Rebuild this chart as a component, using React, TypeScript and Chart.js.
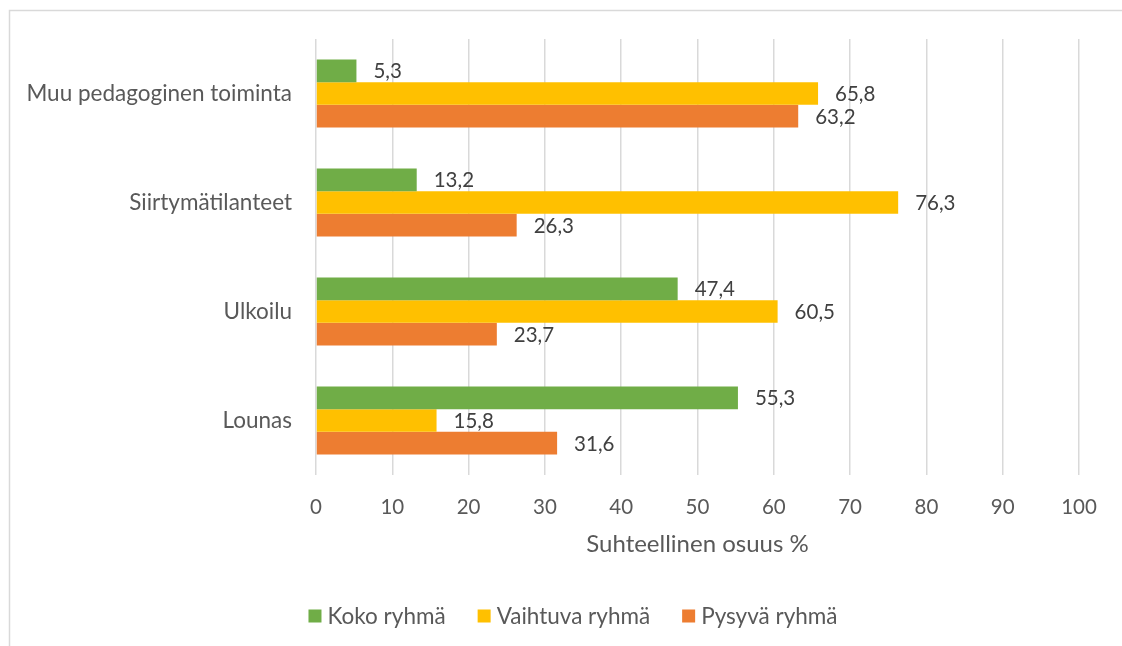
import React, { useEffect, useRef } from 'react';
import { Chart, registerables } from 'chart.js';

Chart.register(...registerables);

const categories = ['Muu pedagoginen toiminta', 'Siirtymätilanteet', 'Ulkoilu', 'Lounas'];
const seriesNames = ['Koko ryhmä', 'Vaihtuva ryhmä', 'Pysyvä ryhmä'];
const kokoRyhma = [5.3, 13.2, 47.4, 55.3];
const vaihtuvaRyhma = [65.8, 76.3, 60.5, 15.8];
const pysyvaRyhma = [63.2, 26.3, 23.7, 31.6];
const seriesColors = ['#70AD47', '#FFC000', '#ED7D31'];
const xMin = 0;
const xMax = 100;
const xStep = 10;
const axisTitle = 'Suhteellinen osuus %';

const FONT = 'Lato';
const FS_TEXT = 22.5;
const FS_NUM = 20.5;
const FS_TITLE = 24;
const AXIS_COLOR = '#595959';
const LABEL_COLOR = '#404040';
const GRID_COLOR = '#D9D9D9';

const fmt = (v: number) => v.toFixed(1).replace('.', ',');

const valueLabels = {
  id: 'valueLabels',
  afterDatasetsDraw(chart: any) {
    const ctx = chart.ctx;
    ctx.save();
    ctx.font = `${FS_NUM}px ${FONT}`;
    ctx.fillStyle = LABEL_COLOR;
    ctx.textAlign = 'left';
    ctx.textBaseline = 'middle';
    chart.data.datasets.forEach((ds: any, i: number) => {
      const meta = chart.getDatasetMeta(i);
      meta.data.forEach((bar: any, j: number) => {
        ctx.fillText(fmt(ds.data[j]), bar.x + 17, bar.y + 1);
      });
    });
    ctx.restore();
  },
};

const frame = {
  id: 'frame',
  beforeDraw(chart: any) {
    const ctx = chart.ctx;
    ctx.save();
    ctx.fillStyle = '#FFFFFF';
    ctx.fillRect(0, 0, chart.width, chart.height);
    ctx.strokeStyle = GRID_COLOR;
    ctx.lineWidth = 1.5;
    ctx.beginPath();
    ctx.moveTo(9.5, chart.height);
    ctx.lineTo(9.5, 10.5);
    ctx.lineTo(chart.width, 10.5);
    ctx.stroke();
    ctx.restore();
  },
};

// Legend drawn in Excel style (small square, tight gap), centred in the chart frame
const customLegend = {
  id: 'customLegend',
  afterDraw(chart: any) {
    const ctx = chart.ctx;
    const box = 13;
    const gap = 6;
    const itemGap = 32;
    const centerX = 573;
    const centerY = 616;
    ctx.save();
    ctx.font = `${FS_TEXT}px ${FONT}`;
    const items = chart.data.datasets.map((ds: any) => ({
      text: ds.label,
      color: ds.backgroundColor,
      w: ctx.measureText(ds.label).width,
    }));
    const total =
      items.reduce((s: number, it: any) => s + box + gap + it.w, 0) + itemGap * (items.length - 1);
    let x = centerX - total / 2;
    ctx.textAlign = 'left';
    ctx.textBaseline = 'middle';
    items.forEach((it: any) => {
      ctx.fillStyle = it.color;
      ctx.fillRect(x, centerY - box / 2, box, box);
      ctx.fillStyle = AXIS_COLOR;
      ctx.fillText(it.text, x + box + gap, centerY + 1);
      x += box + gap + it.w + itemGap;
    });
    ctx.restore();
  },
};

export default function App() {
  const ref = useRef<HTMLCanvasElement | null>(null);
  useEffect(() => {
    if (!ref.current) return;
    const chart = new Chart(ref.current, {
      type: 'bar',
      data: {
        labels: categories,
        datasets: [
          { label: seriesNames[0], data: kokoRyhma, backgroundColor: seriesColors[0] },
          { label: seriesNames[1], data: vaihtuvaRyhma, backgroundColor: seriesColors[1] },
          { label: seriesNames[2], data: pysyvaRyhma, backgroundColor: seriesColors[2] },
        ],
      },
      options: {
        indexAxis: 'y',
        responsive: false,
        animation: false,
        devicePixelRatio: 1,
        datasets: { bar: { categoryPercentage: 0.625, barPercentage: 1.0 } },
        layout: { padding: { top: 39, right: 43, left: 0, bottom: 0 } },
        plugins: {
          tooltip: { enabled: false },
          legend: { display: false },
        },
        scales: {
          x: {
            type: 'linear',
            min: xMin,
            max: xMax,
            ticks: {
              stepSize: xStep,
              color: AXIS_COLOR,
              font: { family: FONT, size: FS_NUM },
              padding: 20,
            },
            grid: { color: GRID_COLOR, lineWidth: 1.5, drawTicks: false },
            border: { display: false },
            title: {
              display: true,
              text: axisTitle,
              color: AXIS_COLOR,
              font: { family: FONT, size: FS_TITLE },
              padding: { top: 0, bottom: 87 },
            },
            afterFit: (scale: any) => {
              scale.height = 171;
            },
          },
          y: {
            type: 'category',
            ticks: {
              color: AXIS_COLOR,
              font: { family: FONT, size: FS_TEXT },
              padding: 24,
            },
            grid: { display: false, drawTicks: false },
            border: { display: false },
            afterFit: (scale: any) => {
              scale.width = 316;
            },
          },
        },
      },
      plugins: [frame, valueLabels, customLegend],
    });
    return () => chart.destroy();
  }, []);

  return (
    <div style={{ position: 'fixed', left: 0, top: 0, width: 1122, height: 646, background: '#fff' }}>
      <canvas ref={ref} width={1122} height={646} style={{ display: 'block', width: 1122, height: 646 }} />
    </div>
  );
}
